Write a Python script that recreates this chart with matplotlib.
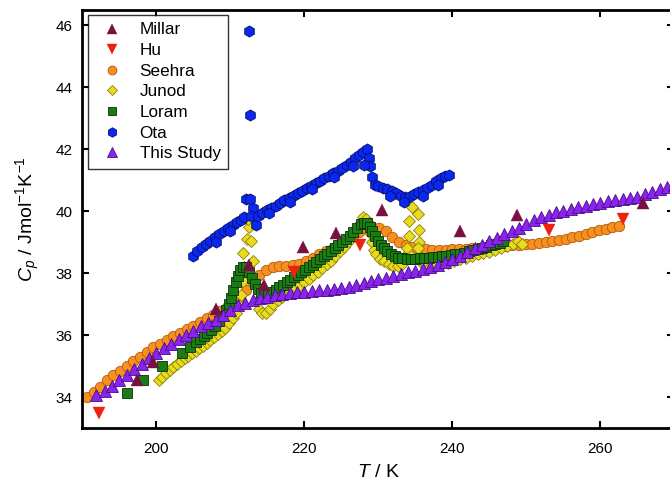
import matplotlib
matplotlib.use("Agg")
import matplotlib.pyplot as plt

plt.rcParams["font.family"] = ["Liberation Sans", "DejaVu Sans"]
plt.rcParams["mathtext.fontset"] = "custom"
plt.rcParams["mathtext.rm"] = "Liberation Sans"
plt.rcParams["mathtext.it"] = "Liberation Sans:italic"

# Millar
millar_T = [197.4, 199.5, 208.0, 212.5, 214.6, 219.8, 224.3, 230.5, 241.0, 248.7, 265.8]
millar_Cp = [34.55, 35.14, 36.85, 38.27, 37.6, 38.85, 39.3, 40.05, 39.37, 39.88, 40.27]

# Hu
hu_T = [192.2, 218.6, 227.5, 253.1, 263.0]
hu_Cp = [33.49, 38.05, 38.89, 39.40, 39.76]

# Seehra
seehra_T = [190.6, 191.5, 192.4, 193.3, 194.2, 195.1, 196.0, 196.9, 197.8, 198.7,
            199.6, 200.5, 201.4, 202.3, 203.2, 204.1, 205.0, 205.9, 206.8, 207.7,
            208.6, 209.5, 210.4, 211.3, 212.1, 213.0, 213.9, 214.8, 215.7, 216.6,
            217.5, 218.4, 219.3, 220.2, 221.1, 222.0, 222.9, 223.8, 224.7, 225.6,
            226.5, 227.4, 228.3, 229.2, 230.1, 231.0, 231.9, 232.8, 233.7, 234.6,
            235.5, 236.4, 237.3, 238.2, 239.1, 240.0, 240.9, 241.8, 242.7, 243.6,
            244.5, 245.4, 246.3, 247.2, 248.1, 249.0, 249.9, 250.8, 251.7, 252.6,
            253.5, 254.4, 255.3, 256.2, 257.1, 258.0, 258.9, 259.8, 260.7, 261.6, 262.5]
seehra_Cp = [34.0, 34.15, 34.33, 34.55, 34.7, 34.85, 35.0, 35.15, 35.3, 35.45,
             35.6, 35.72, 35.85, 35.97, 36.08, 36.2, 36.3, 36.42, 36.55, 36.65,
             36.78, 36.9, 37.05, 37.22, 37.45, 37.72, 37.95, 38.1, 38.18, 38.22,
             38.23, 38.25, 38.3, 38.38, 38.5, 38.62, 38.72, 38.82, 38.95, 39.08,
             39.2, 39.32, 39.45, 39.5, 39.46, 39.35, 39.15, 39.0, 38.9, 38.85,
             38.8, 38.77, 38.76, 38.76, 38.76, 38.77, 38.78, 38.79, 38.8, 38.81,
             38.82, 38.84, 38.86, 38.88, 38.9, 38.92, 38.93, 38.95, 38.97, 39.0,
             39.03, 39.07, 39.11, 39.15, 39.2, 39.27, 39.32, 39.38, 39.43, 39.48, 39.53]

# Junod
junod_T = [200.3, 200.8, 201.3, 201.8, 202.3, 202.8, 203.3, 203.8, 204.3, 204.8,
           205.3, 205.8, 206.3, 206.8, 207.3, 207.8, 208.3, 208.8, 209.3, 209.8,
           210.3, 210.7, 211.1, 211.4, 211.7, 211.9, 211.7, 212.3, 212.5, 212.4,
           212.8, 213.0, 213.3, 213.6, 213.9, 214.3, 214.8, 215.3, 215.8, 216.4,
           217.0, 217.6, 218.2, 218.8, 219.4, 220.0, 220.6, 221.2, 221.8, 222.4,
           223.0, 223.6, 224.2, 224.8, 225.4, 226.0, 226.6, 227.2, 227.6, 227.9,
           228.3, 228.7, 229.0, 229.2, 229.4, 229.7, 230.2, 230.8, 231.4, 232.0,
           232.6, 233.2, 233.6, 233.9, 234.1, 234.1, 234.6, 235.3, 235.5, 235.5,
           235.3, 234.4, 235.8, 236.4, 237.0, 237.8, 238.6, 239.4, 240.2, 241.0,
           241.8, 242.6, 243.4, 244.2, 245.0, 245.8, 246.6, 247.4, 248.2, 248.8, 249.4]
junod_Cp = [34.55, 34.65, 34.76, 34.87, 34.97, 35.07, 35.16, 35.25, 35.33, 35.42,
            35.5, 35.58, 35.66, 35.74, 35.84, 35.93, 36.02, 36.12, 36.24, 36.38,
            36.55, 36.72, 36.98, 37.3, 37.75, 38.2, 38.65, 39.1, 39.5, 39.75,
            39.05, 38.4, 37.6, 37.1, 36.85, 36.72, 36.7, 36.85, 37.0, 37.12,
            37.22, 37.32, 37.42, 37.52, 37.62, 37.72, 37.82, 37.93, 38.04, 38.15,
            38.28, 38.4, 38.55, 38.7, 38.85, 39.02, 39.2, 39.45, 39.65, 39.8,
            39.75, 39.6, 39.25, 39.0, 38.75, 38.6, 38.45, 38.38, 38.3, 38.24,
            38.22, 38.3, 38.55, 38.8, 39.2, 39.67, 40.12, 39.9, 39.4, 39.0,
            38.8, 38.55, 38.35, 38.25, 38.2, 38.22, 38.28, 38.33, 38.39, 38.45,
            38.5, 38.55, 38.6, 38.64, 38.68, 38.73, 38.8, 38.87, 38.95, 39.05, 38.95]

# Loram
loram_T = [196.0, 198.2, 200.8, 203.4, 204.5, 205.4, 205.9, 206.4, 206.9, 207.4,
           207.9, 208.4, 208.9, 209.4, 209.8, 210.1, 210.4, 210.7, 211.0, 211.3,
           211.7, 212.1, 212.5, 212.9, 213.3, 213.7, 214.1, 214.6, 215.1, 215.6,
           216.1, 216.6, 217.1, 217.6, 218.1, 218.6, 219.1, 219.6, 220.1, 220.6,
           221.1, 221.6, 222.1, 222.6, 223.1, 223.6, 224.1, 224.6, 225.1, 225.6,
           226.1, 226.6, 227.1, 227.6, 228.0, 228.4, 228.8, 229.2, 229.6, 230.0,
           230.4, 230.8, 231.2, 231.7, 232.2, 232.7, 233.2, 233.8, 234.4, 235.0,
           235.6, 236.2, 236.8, 237.4, 238.0, 238.6, 239.2, 239.8, 240.4, 241.0,
           241.6, 242.2, 242.8, 243.4, 244.0, 244.6, 245.2, 245.8, 246.4, 246.9]
loram_Cp = [34.12, 34.55, 35.0, 35.43, 35.62, 35.78, 35.88, 35.98, 36.08, 36.17,
            36.3, 36.44, 36.6, 36.8, 37.0, 37.2, 37.45, 37.7, 37.92, 38.1,
            38.2, 38.2, 38.05, 37.85, 37.65, 37.48, 37.36, 37.28, 37.3, 37.38,
            37.46, 37.54, 37.62, 37.7, 37.78, 37.86, 37.94, 38.02, 38.1, 38.18,
            38.27, 38.36, 38.45, 38.54, 38.63, 38.72, 38.81, 38.9, 39.0, 39.1,
            39.2, 39.32, 39.45, 39.57, 39.62, 39.6, 39.5, 39.35, 39.2, 39.05,
            38.92, 38.8, 38.7, 38.62, 38.55, 38.5, 38.48, 38.47, 38.47, 38.47,
            38.48, 38.49, 38.5, 38.52, 38.53, 38.55, 38.56, 38.58, 38.6, 38.63,
            38.66, 38.7, 38.73, 38.77, 38.81, 38.85, 38.89, 38.93, 38.97, 39.02]

# Ota
ota_T = [212.5, 212.6, 205.0, 205.5, 206.1, 206.7, 207.3, 207.9, 208.5, 209.1,
         209.7, 210.3, 210.9, 211.4, 211.8, 212.1, 212.6, 213.1, 212.8, 213.4,
         213.7, 214.3, 214.9, 215.5, 216.1, 216.7, 217.3, 217.9, 218.5, 219.1,
         219.7, 220.3, 220.9, 221.5, 222.1, 222.7, 223.3, 223.9, 224.5, 225.1,
         225.7, 226.3, 226.9, 227.4, 227.9, 228.4, 228.7, 228.9, 229.2, 229.5,
         230.0, 230.6, 231.2, 231.8, 232.4, 233.0, 233.6, 234.2, 234.8, 235.4,
         236.0, 236.6, 237.2, 237.8, 238.4, 239.0, 239.6,
         208.0, 210.0, 215.2, 218.0, 221.0, 224.0, 226.5, 228.0, 231.5, 233.5, 236.0, 238.0]
ota_Cp = [45.8, 43.1, 38.55, 38.7, 38.85, 38.95, 39.05, 39.15, 39.25, 39.35,
          39.47, 39.55, 39.65, 39.72, 39.8, 40.38, 40.4, 40.1, 39.85, 39.55,
          39.85, 39.95, 40.03, 40.1, 40.18, 40.27, 40.35, 40.42, 40.5, 40.58,
          40.66, 40.75, 40.82, 40.9, 40.98, 41.06, 41.14, 41.22, 41.3, 41.4,
          41.5, 41.6, 41.72, 41.8, 41.9, 42.0, 41.7, 41.45, 41.1, 40.85,
          40.82, 40.75, 40.7, 40.64, 40.58, 40.5, 40.44, 40.45, 40.55, 40.62,
          40.68, 40.75, 40.85, 40.98, 41.08, 41.12, 41.15,
          39.0, 39.35, 39.95, 40.3, 40.7, 41.1, 41.45, 41.5, 40.5, 40.3, 40.5, 40.85]

# This Study
study_T = [191.9, 193, 194, 195, 196, 197, 198, 199, 200, 201, 202, 203, 204, 205,
           206, 207, 208, 209, 210, 211, 212, 213, 214, 215, 216, 217, 218, 219,
           220, 221, 222, 223, 224, 225, 226, 227, 228, 229, 230, 231, 232, 233,
           234, 235, 236, 237, 238, 239, 240, 241, 242, 243, 244, 245, 246, 247,
           248, 249, 250, 251, 252, 253, 254, 255, 256, 257, 258, 259, 260, 261,
           262, 263, 264, 265, 266, 267, 268, 269, 270]
study_Cp = [34.05, 34.2, 34.35, 34.55, 34.72, 34.9, 35.08, 35.25, 35.42, 35.57,
            35.72, 35.87, 36.0, 36.13, 36.28, 36.4, 36.5, 36.65, 36.8, 36.98,
            37.05, 37.12, 37.18, 37.22, 37.28, 37.32, 37.35, 37.38, 37.4, 37.42,
            37.44, 37.46, 37.48, 37.52, 37.56, 37.62, 37.68, 37.74, 37.8, 37.85,
            37.92, 37.98, 38.03, 38.08, 38.14, 38.2, 38.27, 38.35, 38.45, 38.55,
            38.68, 38.8, 38.92, 39.02, 39.12, 39.25, 39.36, 39.46, 39.58, 39.7,
            39.8, 39.88, 39.96, 40.0, 40.06, 40.12, 40.18, 40.22, 40.27, 40.31,
            40.35, 40.38, 40.42, 40.47, 40.55, 40.62, 40.7, 40.78, 40.85]

fig = plt.figure(figsize=(6.7, 4.84), dpi=100)
ax = fig.add_axes([0.123, 0.1157, 0.8836, 0.8643])

ax.plot(seehra_T, seehra_Cp, "o", ms=7.5, mfc="#f7901e", mec="#b05a10", mew=0.6, label="Seehra", zorder=2)
ax.plot(junod_T, junod_Cp, "D", ms=6.5, mfc="#e8dc1c", mec="#8a7f10", mew=0.6, label="Junod", zorder=3)
ax.plot(loram_T, loram_Cp, "s", ms=6.8, mfc="#1a7d14", mec="#0a300a", mew=0.6, label="Loram", zorder=4)
ax.plot(ota_T, ota_Cp, "h", ms=8, mfc="#0a28f0", mec="#06106a", mew=0.6, label="Ota", zorder=5)
ax.plot(study_T, study_Cp, "^", ms=8, mfc="#8a24ea", mec="#4a0a90", mew=0.6, label="This Study", zorder=6)
ax.plot(hu_T, hu_Cp, "v", ms=8, mfc="#ee2010", mec="#ee2010", mew=0.3, label="Hu", zorder=7)
ax.plot(millar_T, millar_Cp, "^", ms=8, mfc="#7a1040", mec="#7a1040", mew=0.3, label="Millar", zorder=8)

ax.set_xlim(190, 270)
ax.set_ylim(33, 46.5)
ax.set_xticks([200, 220, 240, 260])
ax.set_yticks([34, 36, 38, 40, 42, 44, 46])
ax.tick_params(direction="in", length=5, width=1.5, top=True, right=True, labelsize=11)
ax.tick_params(axis="x", pad=10)
ax.tick_params(axis="y", pad=7)
for sp in ax.spines.values():
    sp.set_linewidth(2)

ax.set_xlabel("$T$ / K", fontsize=14, labelpad=6)
ax.set_ylabel("$C_p$ / Jmol$^{-1}$K$^{-1}$", fontsize=14, labelpad=10)

handles, labels = ax.get_legend_handles_labels()
order = ["Millar", "Hu", "Seehra", "Junod", "Loram", "Ota", "This Study"]
hmap = dict(zip(labels, handles))
leg = ax.legend([hmap[k] for k in order], order, loc="upper left", numpoints=1,
                fontsize=12.3, frameon=True, fancybox=False, edgecolor="black",
                borderaxespad=0.3, labelspacing=0.33, handletextpad=0.6, borderpad=0.45,
                markerscale=0.85)
leg.get_frame().set_linewidth(1.0)

fig.savefig("out.png", dpi=100)
